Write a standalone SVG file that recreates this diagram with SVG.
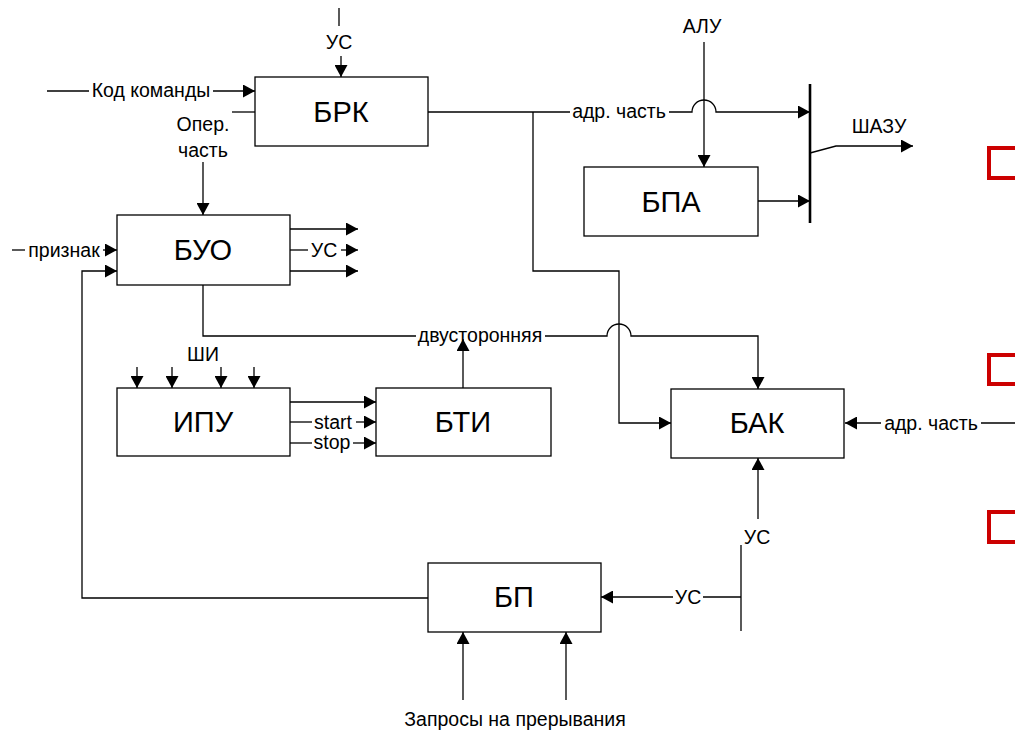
<svg xmlns="http://www.w3.org/2000/svg" width="1015" height="730" viewBox="0 0 1015 730">
<defs>
<marker id="arr" markerWidth="13" markerHeight="13" refX="12" refY="6.5" orient="auto" markerUnits="userSpaceOnUse"><path d="M0,0 L12,6.5 L0,13 z" fill="#000"/></marker>
<style>
.box{fill:#fff;stroke:#000;stroke-width:1.3}
.t{font-family:"Liberation Sans",Arial,sans-serif;font-size:29px;text-anchor:middle;dominant-baseline:central;fill:#000}
.l{font-family:"Liberation Sans",Arial,sans-serif;font-size:19.5px;text-anchor:middle;fill:#000}
.c{fill:none;stroke:#000;stroke-width:1.3}
.a{marker-end:url(#arr)}
.bus{fill:none;stroke:#000;stroke-width:2.6}
.red{fill:none;stroke:#cc0000;stroke-width:4}
</style>
</defs>
<rect width="1015" height="730" fill="#fff"/>
<g id="connectors">
<line class="c" x1="339" y1="8" x2="339" y2="26"/>
<text class="l" x="339" y="49">УС</text>
<line class="c a" x1="341" y1="56" x2="341" y2="77"/>
<line class="c" x1="47" y1="91" x2="89" y2="91"/>
<text class="l" x="151" y="97">Код команды</text>
<line class="c a" x1="213" y1="91" x2="255" y2="91"/>
<line class="c" x1="232" y1="112" x2="255" y2="112"/>
<text class="l" x="203" y="131">Опер.</text>
<text class="l" x="203" y="157">часть</text>
<line class="c a" x1="203" y1="162" x2="203" y2="215"/>
<line class="c" x1="428" y1="112" x2="570" y2="112"/>
<text class="l" x="619" y="118">адр. часть</text>
<path class="c a" d="M669,112 L692,112 A12,12 0 0 1 716,112 L810,112"/>
<path class="c a" d="M533,112 L533,271 L619,271 L619,423 L671,423"/>
<text class="l" x="702" y="33">АЛУ</text>
<line class="c a" x1="704" y1="42" x2="704" y2="167"/>
<line class="bus" x1="810" y1="84" x2="810" y2="223"/>
<line class="c a" x1="758" y1="201" x2="810" y2="201"/>
<polyline class="c a" points="810,153 836,146 913,146"/>
<text class="l" x="879" y="133">ШАЗУ</text>
<line class="c a" x1="290" y1="229" x2="358" y2="229"/>
<line class="c" x1="290" y1="250" x2="308" y2="250"/>
<text class="l" x="324" y="257">УС</text>
<line class="c a" x1="341" y1="250" x2="358" y2="250"/>
<line class="c a" x1="290" y1="271" x2="358" y2="271"/>
<line class="c" x1="12" y1="250" x2="25" y2="250"/>
<text class="l" x="64" y="257">признак</text>
<line class="c a" x1="103" y1="250" x2="117" y2="250"/>
<polyline class="c a" points="428,598 82,598 82,271 117,271"/>
<polyline class="c" points="203,285 203,336 416,336"/>
<text class="l" x="480" y="342">двусторонняя</text>
<path class="c a" d="M545,336 L607,336 A12,12 0 0 1 631,336 L758,336 L758,389"/>
<line class="c a" x1="463" y1="388" x2="463" y2="339"/>
<text class="l" x="203" y="361">ШИ</text>
<line class="c a" x1="137" y1="367" x2="137" y2="388"/>
<line class="c a" x1="172" y1="367" x2="172" y2="388"/>
<line class="c a" x1="221" y1="367" x2="221" y2="388"/>
<line class="c a" x1="254" y1="367" x2="254" y2="388"/>
<line class="c a" x1="290" y1="402" x2="376" y2="402"/>
<line class="c" x1="290" y1="422" x2="312" y2="422"/>
<text class="l" x="333" y="429">start</text>
<line class="c a" x1="356" y1="422" x2="376" y2="422"/>
<line class="c" x1="290" y1="443" x2="312" y2="443"/>
<text class="l" x="332" y="449">stop</text>
<line class="c a" x1="353" y1="443" x2="376" y2="443"/>
<line class="c a" x1="881" y1="423" x2="845" y2="423"/>
<text class="l" x="931" y="430">адр. часть</text>
<line class="c" x1="981" y1="423" x2="1015" y2="423"/>
<line class="c a" x1="758" y1="519" x2="758" y2="458"/>
<text class="l" x="757" y="544">УС</text>
<line class="c" x1="741" y1="545" x2="741" y2="631"/>
<line class="c" x1="741" y1="597" x2="703" y2="597"/>
<text class="l" x="688" y="604">УС</text>
<line class="c a" x1="673" y1="597" x2="601" y2="597"/>
<line class="c a" x1="463" y1="700" x2="463" y2="632"/>
<line class="c a" x1="566" y1="700" x2="566" y2="632"/>
<text class="l" x="515" y="726">Запросы на прерывания</text>
</g>
<g id="brk"><rect class="box" x="255" y="77" width="173" height="69"/><text class="t" x="341" y="112">БРК</text></g>
<g id="bpa"><rect class="box" x="584" y="167" width="174" height="69"/><text class="t" x="671" y="202">БПА</text></g>
<g id="buo"><rect class="box" x="117" y="215" width="173" height="70"/><text class="t" x="203" y="250">БУО</text></g>
<g id="ipu"><rect class="box" x="117" y="388" width="173" height="68"/><text class="t" x="203" y="422">ИПУ</text></g>
<g id="bti"><rect class="box" x="376" y="388" width="175" height="68"/><text class="t" x="463" y="422">БТИ</text></g>
<g id="bak"><rect class="box" x="671" y="389" width="173" height="69"/><text class="t" x="757" y="423">БАК</text></g>
<g id="bp"><rect class="box" x="428" y="563" width="173" height="69"/><text class="t" x="514" y="597">БП</text></g>
<g id="marks">
<polyline class="red" points="1016,148 989,148 989,178 1016,178"/>
<polyline class="red" points="1016,355 989,355 989,384 1016,384"/>
<polyline class="red" points="1016,512 989,512 989,542 1016,542"/>
</g>
</svg>
